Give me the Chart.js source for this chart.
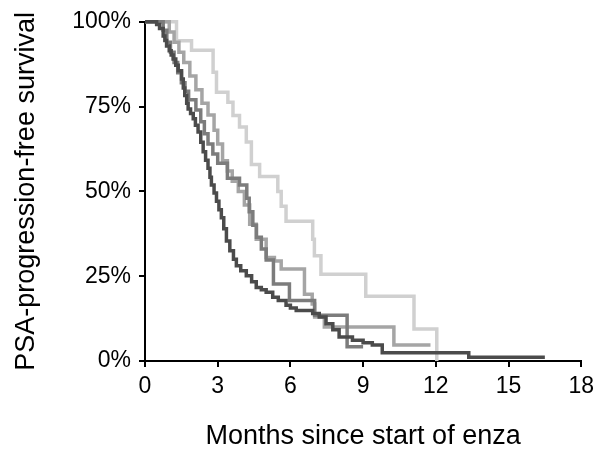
<!DOCTYPE html>
<html>
<head>
<meta charset="utf-8">
<script src="https://cdn.jsdelivr.net/npm/chart.js@4/dist/chart.umd.min.js"></script>
<style>
  html, body { margin: 0; padding: 0; background: #fff; }
  #wrap { width: 600px; height: 453px; position: relative; }
</style>
</head>
<body>
<div id="wrap"><canvas id="km"></canvas></div>
<script>
// ── Data (months, % PSA-progression-free) ─────────────────────────────────
const X_TICKS = [0, 3, 6, 9, 12, 15, 18];
const Y_TICKS = [0, 25, 50, 75, 100];

const darkT = [0, 0.48, 0.6, 0.75, 0.82, 0.89, 1.0, 1.08, 1.16, 1.27, 1.37, 1.51, 1.58, 1.64, 1.72, 1.78, 1.88,
  1.99, 2.08, 2.19, 2.3, 2.4, 2.5, 2.6, 2.68, 2.74, 2.85, 2.95, 3.05, 3.15, 3.25, 3.36, 3.5, 3.65, 3.77, 3.95,
  4.18, 4.4, 4.59, 4.8, 5.0, 5.27, 5.5, 5.82, 6.0, 6.24, 6.92, 7.19, 7.47, 7.75, 8.01, 8.56, 9.0, 9.38, 9.79,
  13.36, 16.5];
const darkS = [100, 99.2, 98, 95.8, 94.5, 92.9, 91.5, 90.2, 89, 87.2, 85.6, 83.1, 80.5, 78.3, 76, 74.3, 73,
  71.4, 69.5, 67.5, 64.5, 61.7, 59.2, 56.8, 54.2, 51.9, 49.5, 47.1, 44.6, 42.2, 39, 35.4, 32.5, 30, 28.1, 26.6,
  25.1, 23.4, 21.7, 21, 20.3, 18.8, 17.8, 16.4, 15.6, 14.9, 14, 13, 11, 9.2, 7.1, 6.1, 5.4, 4.7, 2.4,
  1.1, 1.1];

const midT = [0, 0.75, 0.9, 1.05, 1.2, 1.35, 1.5, 1.65, 1.8, 2.1, 2.3, 2.45, 2.6, 2.8, 3.0, 3.4, 3.9, 4.2,
  4.3, 4.45, 4.6, 4.8, 5.0, 5.3, 5.96, 7.0, 8.34, 9.0];
const midS = [100, 97.5, 94, 91, 88, 85, 82, 79.5, 77, 74, 70.5, 67, 64, 61, 58.3, 53.9, 51.9, 48,
  44, 40, 36.5, 33, 29.8, 22.7, 17.8, 13.5, 4.2, 4.2];

const lightT = [0, 1.0, 1.2, 1.4, 1.6, 1.85, 2.1, 2.35, 2.6, 2.85, 3.0, 3.2, 3.4, 3.6, 3.85, 4.1, 4.32, 4.59,
  5.0, 5.34, 5.62, 6.58, 6.9, 7.0, 7.4, 10.27, 11.78];
const lightS = [100, 97, 94, 91, 88, 84, 80, 76, 72.5, 68, 64, 59, 56, 53, 50, 46, 40.3, 35.9,
  30.5, 29.5, 27.1, 19.7, 16.8, 13, 10, 4.7, 4.7];

const palestT = [0, 1.3, 1.92, 2.81, 2.95, 3.42, 3.63, 3.9, 4.18, 4.39, 4.73, 5.48, 5.62, 5.82, 6.92, 6.99,
  7.26, 9.11, 11.1, 12.04];
const palestS = [100, 94.4, 91.6, 85.1, 79.2, 76.3, 72.4, 69, 64.6, 57.9, 54.4, 50, 45.6, 41.2, 35.9, 31,
  25.6, 19.1, 9.4, 0];

const SERIES = [
  { label: 'Group 1', t: darkT, s: darkS, color: '#4b4b4b' },
  { label: 'Group 2', t: midT, s: midS, color: '#7c7c7c' },
  { label: 'Group 3', t: lightT, s: lightS, color: '#a5a5a5' },
  { label: 'Group 4', t: palestT, s: palestS, color: '#d0d0d0' },
];

// ── Chart ─────────────────────────────────────────────────────────────────
const FONT = 'Liberation Sans, Arial, Helvetica, sans-serif';

const datasets = SERIES.map(sr => ({
  label: sr.label,
  data: sr.t.map((t, i) => ({ x: t, y: sr.s[i] })),
  borderColor: sr.color,
  backgroundColor: 'transparent',
  borderWidth: 3.5,
  pointRadius: 0,
  stepped: 'before',
  fill: false,
  clip: 6,
}));

new Chart(document.getElementById('km').getContext('2d'), {
  type: 'line',
  data: { datasets },
  options: {
    responsive: true,
    maintainAspectRatio: false,
    animation: false,
    layout: { padding: { left: 0, right: 18, top: 19, bottom: 0 } },
    plugins: { legend: { display: false }, tooltip: { enabled: false } },
    scales: {
      x: {
        type: 'linear',
        min: 0, max: 18,
        afterFit: s => { s.height = 92; },
        afterBuildTicks: s => { s.ticks = X_TICKS.map(v => ({ value: v })); },
        border: { display: true, color: '#000', width: 2 },
        grid: { display: true, drawOnChartArea: false, drawTicks: true, tickLength: 6, color: '#000', lineWidth: 2 },
        ticks: { color: '#000', font: { family: FONT, size: 23 }, padding: 6, maxRotation: 0 },
        title: {
          display: true, text: 'Months since start of enza', color: '#000',
          font: { family: FONT, size: 27, lineHeight: 1.2 }, padding: { top: 0, bottom: 0 },
        },
      },
      y: {
        min: 0, max: 100,
        afterFit: s => { s.width = 145; },
        afterBuildTicks: s => { s.ticks = Y_TICKS.map(v => ({ value: v })); },
        border: { display: true, color: '#000', width: 2 },
        grid: { display: true, drawOnChartArea: false, drawTicks: true, tickLength: 6, color: '#000', lineWidth: 2 },
        ticks: { color: '#000', font: { family: FONT, size: 23 }, padding: 8, callback: v => v + '%' },
        title: {
          display: true, text: 'PSA-progression-free survival', color: '#000',
          font: { family: FONT, size: 27, lineHeight: 1.2 }, padding: { top: 10, bottom: 0 },
        },
      },
    },
  },
});
</script>
</body>
</html>
